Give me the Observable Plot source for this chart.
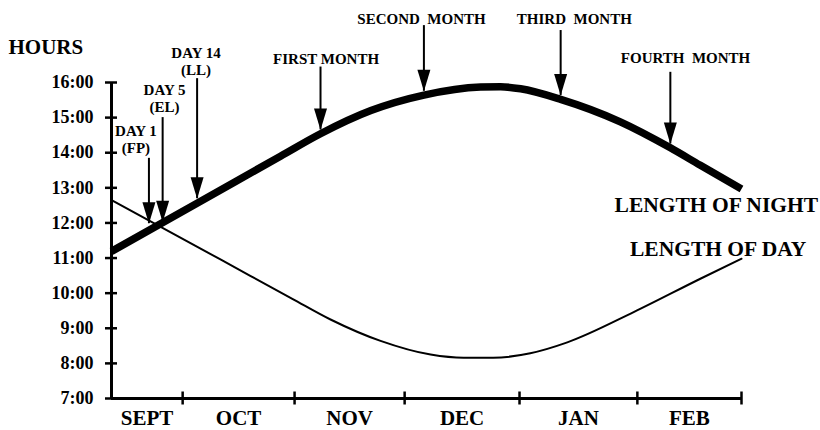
<!DOCTYPE html>
<html>
<head>
<meta charset="utf-8">
<script src="https://cdn.jsdelivr.net/npm/d3@7"></script>
<script src="https://cdn.jsdelivr.net/npm/@observablehq/plot@0.6"></script>
<style>
  html, body { margin: 0; padding: 0; background: #fff; }
  #chart svg { display: block; }
</style>
</head>
<body>
<div id="chart"></div>
<script>
// x = days from the left edge of the axis (mid-September); y = hours
const nightDays  = [0, 23.1, 45.6, 56.4, 70, 84.3, 99.6, 105, 110.4, 121.2, 137.3, 150.8, 158.9, 170];
const nightHours = [11.19, 12.56, 13.9, 14.54, 15.2, 15.64, 15.87, 15.88, 15.82, 15.52, 14.88, 14.14, 13.64, 12.97];

const dayDays  = [0, 29.4, 48.8, 59.1, 72.6, 86.1, 95, 103, 113, 123, 140.9, 158.9, 170];
const dayHours = [12.65, 10.96, 9.84, 9.25, 8.64, 8.25, 8.16, 8.16, 8.29, 8.6, 9.46, 10.41, 10.98];

const hourTicks = [7, 8, 9, 10, 11, 12, 13, 14, 15, 16];
const monthBounds = [0, 19.2, 49.4, 79.1, 110.1, 141.9, 170];
const monthNames = ["SEPT", "OCT", "NOV", "DEC", "JAN", "FEB"];

const arrowLabels = ["DAY 1\n(FP)", "DAY 5\n(EL)", "DAY 14\n(LL)", "FIRST MONTH", "SECOND\u00a0 MONTH", "THIRD\u00a0 MONTH", "FOURTH\u00a0 MONTH"];
const arrowDays   = [10.1, 13.8, 23.1, 56.4, 84.3, 121.2, 150.8];
const arrowTops   = [13.84, 15.0, 16.11, 16.44, 17.62, 17.48, 16.29];
const arrowTips   = [11.98, 12.02, 12.69, 14.65, 15.75, 15.63, 14.25];
const labelDays   = [6.6, 14.3, 22.8, 57.9, 83.65, 124.9, 154.9];
const labelHours  = [13.98, 15.15, 16.2, 16.54, 17.68, 17.68, 16.55];

const seriesLabels = ["LENGTH OF NIGHT", "LENGTH OF DAY"];
const seriesLabelDays = [163.2, 163.7];
const seriesLabelHours = [12.30, 11.07];

const monthMids = monthNames.map((m, i) => (monthBounds[i] + monthBounds[i + 1]) / 2);

const arrowHead = {
  draw(context, size) {
    const r = Math.sqrt(size / Math.PI);
    context.moveTo(0, 0);
    context.lineTo(-r, -3.3 * r);
    context.lineTo(r, -3.3 * r);
    context.closePath();
  }
};

const idx = n => Array.from({length: n}, (_, i) => i);

const chart = Plot.plot({
  width: 820,
  height: 430,
  marginLeft: 111,
  marginRight: 79,
  marginTop: 82,
  marginBottom: 32,
  style: {fontFamily: "'Liberation Serif', 'Times New Roman', serif", fontWeight: "bold", color: "black", background: "white"},
  x: {domain: [0, 170], axis: null},
  y: {domain: [7, 16], axis: null},
  marks: [
    // axes
    Plot.axisY({ticks: hourTicks, tickFormat: d => d + ":00", tickSize: 12, dx: 6, tickPadding: 12, strokeWidth: 2.5, fontSize: 18}),
    Plot.axisX({ticks: monthBounds.slice(1), tickSize: 13, dy: -6.5, tickFormat: () => "", strokeWidth: 2.5}),
    Plot.axisX({ticks: monthMids, tickSize: 0, tickPadding: 12, tickFormat: d => monthNames[monthMids.indexOf(d)], fontSize: 21}),
    Plot.ruleX([0], {y1: 7, y2: 16, strokeWidth: 3}),
    Plot.ruleY([7], {x1: 0, x2: 170, strokeWidth: 3}),
    // curves
    Plot.line(idx(dayDays.length), {x: dayDays, y: dayHours, curve: "monotone-x", stroke: "black", strokeWidth: 2}),
    Plot.line(idx(nightDays.length), {x: nightDays, y: nightHours, curve: "monotone-x", stroke: "black", strokeWidth: 7.5, strokeLinecap: "butt"}),
    // arrows
    Plot.ruleX(idx(arrowDays.length), {x: arrowDays, y1: arrowTops, y2: arrowTips, strokeWidth: 2}),
    Plot.dot(idx(arrowDays.length), {x: arrowDays, y: arrowTips, symbol: arrowHead, r: 6.5, fill: "black", stroke: "none"}),
    // labels
    Plot.text(arrowLabels, {x: labelDays, y: labelHours, text: d => d, fontSize: 15, lineAnchor: "bottom", lineHeight: 1.15, textAnchor: "middle", fill: "black"}),
    Plot.text(seriesLabels, {x: seriesLabelDays, y: seriesLabelHours, text: d => d, fontSize: 21.5, lineAnchor: "bottom", textAnchor: "middle", fill: "black"}),
    Plot.text(["HOURS"], {frameAnchor: "top-left", dx: -103, dy: -29, text: d => d, fontSize: 21, lineAnchor: "bottom", textAnchor: "start", fill: "black"})
  ]
});

document.getElementById("chart").appendChild(chart);
</script>
</body>
</html>
